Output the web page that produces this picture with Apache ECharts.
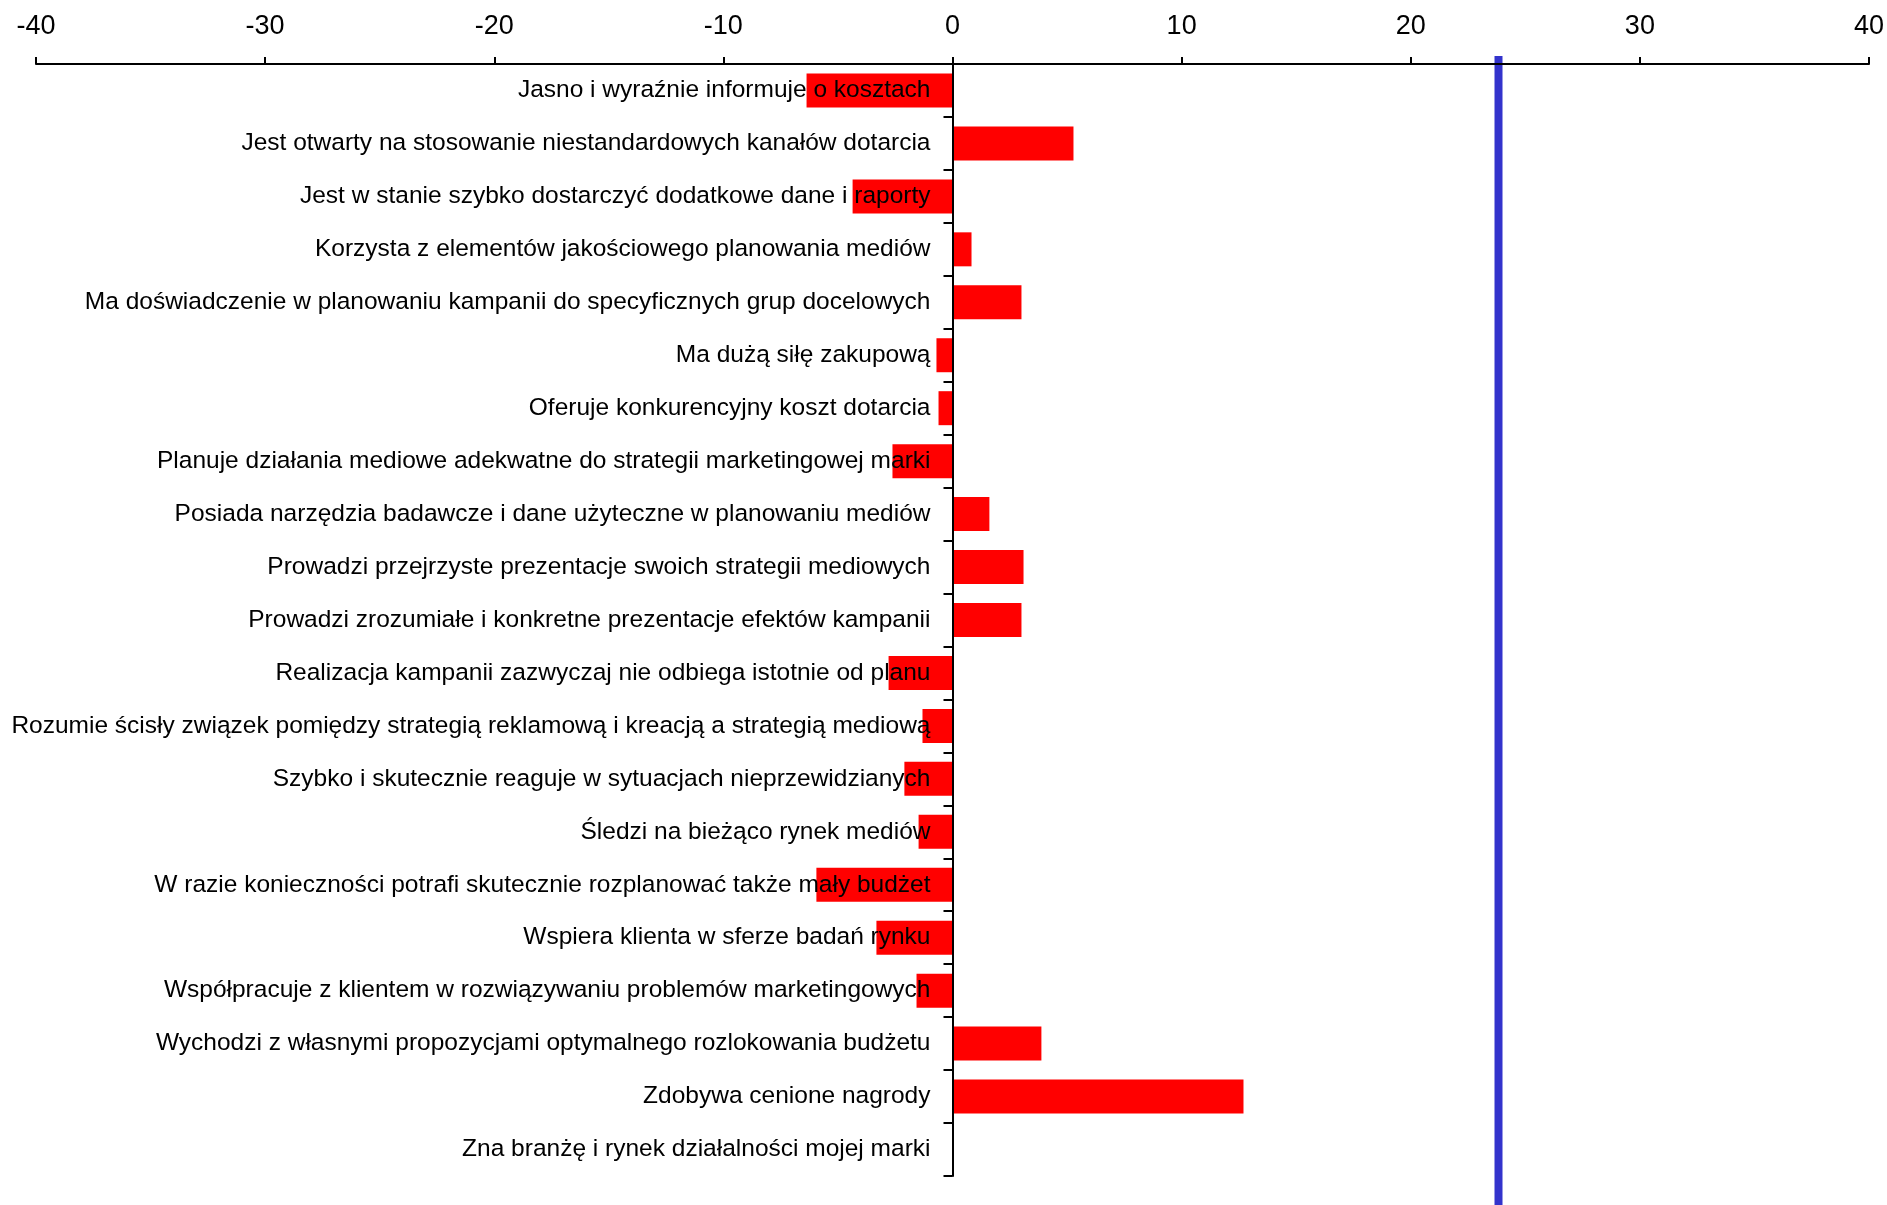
<!DOCTYPE html>
<html>
<head>
<meta charset="utf-8">
<style>
  html, body { margin: 0; padding: 0; background: #fff; }
  #chart { width: 1887px; height: 1205px; }
</style>
<script src="https://cdn.jsdelivr.net/npm/echarts@6/dist/echarts.min.js"></script>
</head>
<body>
<div id="chart"></div>
<script>
// Attribute names, listed top to bottom
const categories = [
  'Jasno i wyraźnie informuje o kosztach',
  'Jest otwarty na stosowanie niestandardowych kanałów dotarcia',
  'Jest w stanie szybko dostarczyć dodatkowe dane i raporty',
  'Korzysta z elementów jakościowego planowania mediów',
  'Ma doświadczenie w planowaniu kampanii do specyficznych grup docelowych',
  'Ma dużą siłę zakupową',
  'Oferuje konkurencyjny koszt dotarcia',
  'Planuje działania mediowe adekwatne do strategii marketingowej marki',
  'Posiada narzędzia badawcze i dane użyteczne w planowaniu mediów',
  'Prowadzi przejrzyste prezentacje swoich strategii mediowych',
  'Prowadzi zrozumiałe i konkretne prezentacje efektów kampanii',
  'Realizacja kampanii zazwyczaj nie odbiega istotnie od planu',
  'Rozumie ścisły związek pomiędzy strategią reklamową i kreacją a strategią mediową',
  'Szybko i skutecznie reaguje w sytuacjach nieprzewidzianych',
  'Śledzi na bieżąco rynek mediów',
  'W razie konieczności potrafi skutecznie rozplanować także mały budżet',
  'Wspiera klienta w sferze badań rynku',
  'Współpracuje z klientem w rozwiązywaniu problemów marketingowych',
  'Wychodzi z własnymi propozycjami optymalnego rozlokowania budżetu',
  'Zdobywa cenione nagrody',
  'Zna branżę i rynek działalności mojej marki'
];

// Difference values per attribute
const values = [
  -6.37, 5.28, -4.36, 0.83, 3.01, -0.70, -0.61, -2.62, 1.61, 3.10, 3.01,
  -2.79, -1.31, -2.10, -1.48, -5.94, -3.32, -1.57, 3.88, 12.70, 0
];

// Reference level drawn as a vertical bar
const referenceValue = [23.83];

// Value axis range
const axisMin = -40;
const axisMax = 40;
const axisStep = 10;

const gridLeft = 36;

const chart = echarts.init(document.getElementById('chart'));

chart.setOption({
  animation: false,
  backgroundColor: '#ffffff',
  grid: {
    left: gridLeft, right: 18, top: 64, bottom: 29,
    containLabel: false,
    outerBoundsMode: 'none'
  },
  xAxis: {
    type: 'value',
    position: 'top',
    min: axisMin,
    max: axisMax,
    interval: axisStep,
    z: 4,
    axisLine: { show: true, lineStyle: { color: '#000', width: 2 } },
    axisTick: { show: true, length: 7, lineStyle: { color: '#000', width: 2 } },
    splitLine: { show: false },
    axisLabel: {
      color: '#000',
      fontFamily: 'Liberation Sans',
      fontSize: 27,
      margin: 24
    }
  },
  yAxis: {
    type: 'category',
    data: categories,
    inverse: true,
    z: 4,
    offset: 0,
    axisLine: { show: true, onZero: false, lineStyle: { color: '#000', width: 2 } },
    axisTick: { show: true, length: 9, lineStyle: { color: '#000', width: 2 } },
    splitLine: { show: false },
    axisLabel: {
      color: '#000',
      fontFamily: 'Liberation Sans',
      fontSize: 24.5,
      margin: 22,
      interval: 0
    }
  },
  series: [
    {
      type: 'bar',
      data: values,
      barWidth: 34,
      itemStyle: { color: '#ff0000' },
      z: 2
    },
    {
      type: 'custom',
      z: 3,
      clip: false,
      data: referenceValue.map(v => [v, 0]),
      encode: { x: 0, y: 1 },
      renderItem: function (params, api) {
        const x = api.coord([api.value(0), 0])[0];
        const top = params.coordSys.y - 8;
        return {
          type: 'rect',
          shape: { x: x - 4, y: top, width: 8, height: api.getHeight() - top },
          style: { fill: '#3333cc' }
        };
      }
    }
  ]
});

// Put the category axis (line, ticks and labels) on the zero of the value axis
const zeroX = chart.convertToPixel({ xAxisIndex: 0 }, 0);
chart.setOption({ yAxis: { offset: -(zeroX - gridLeft) } });
</script>
</body>
</html>
